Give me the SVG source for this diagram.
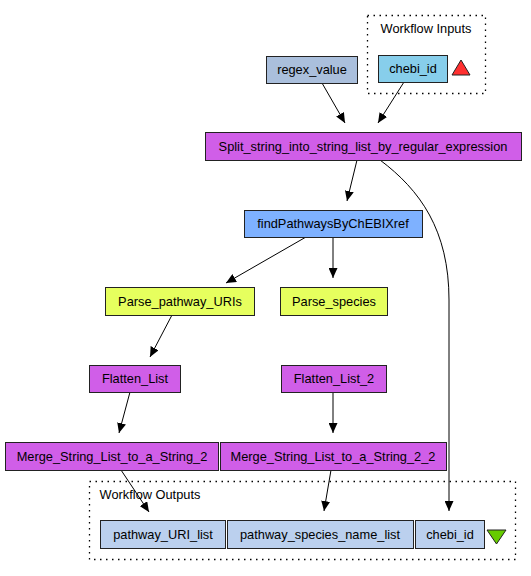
<svg xmlns="http://www.w3.org/2000/svg" width="531" height="576" viewBox="0 0 531 576">
<defs>
<marker id="arr" viewBox="0 0 10 9" refX="10" refY="4.5" markerWidth="10" markerHeight="9" markerUnits="userSpaceOnUse" orient="auto">
<path d="M0,0 L10,4.5 L0,9 Z" fill="#000"/>
</marker>
<style>
.n rect{stroke:#222;stroke-width:1}
text{font-family:"Liberation Sans",Arial,sans-serif;font-size:12.8px;fill:#000;text-anchor:middle}
.cl{fill:none;stroke:#000;stroke-width:1.3;stroke-dasharray:1.5,4.5}
.e path{fill:none;stroke:#000;stroke-width:1;marker-end:url(#arr)}
.pur{fill:#d05ee8}
.yel{fill:#e6ff5e}
.inb{fill:#87ceeb}
.outb{fill:#bbd0ee}
.cfg{fill:#aabfdc}
.ws{fill:#7eb1ff}
</style>
</defs>
<rect width="531" height="576" fill="#fff"/>
<g id="cluster_inputs">
<rect class="cl" x="367.5" y="15.5" width="118" height="78"/>
<text x="426" y="33">Workflow Inputs</text>
</g>
<g id="cluster_outputs">
<rect class="cl" x="89.5" y="481.5" width="426" height="78"/>
<text x="150" y="499">Workflow Outputs</text>
</g>
<g id="connectors" class="e">
<path d="M322,83 L345,123"/>
<path d="M404,82 L378,123"/>
<path d="M357,160 L347,201"/>
<path d="M380,160 C420,190 449,230 449,300 L449,511"/>
<path d="M306,237 L226,283"/>
<path d="M333,237 L333,278"/>
<path d="M172,315 L150,357"/>
<path d="M130,392 L119,433"/>
<path d="M333,392 L333,433"/>
<path d="M121,470 L149,512"/>
<path d="M331,470 L324,511"/>
</g>
<g id="regex_value" class="n"><rect class="cfg" x="266.5" y="56.5" width="91" height="27"/><text x="312" y="74">regex_value</text></g>
<g id="in_chebi_id" class="n"><rect class="inb" x="378.5" y="55.5" width="69" height="27"/><text x="413" y="73">chebi_id</text></g>
<g id="in_triangle"><polygon points="461,60 470,75 452,75" fill="#ff3030" stroke="#222"/></g>
<g id="Split" class="n"><rect class="pur" x="205.5" y="132.5" width="316" height="28"/><text x="363" y="151">Split_string_into_string_list_by_regular_expression</text></g>
<g id="findPathwaysByChEBIXref" class="n"><rect class="ws" x="244.5" y="210.5" width="178" height="27"/><text x="333" y="228">findPathwaysByChEBIXref</text></g>
<g id="Parse_pathway_URIs" class="n"><rect class="yel" x="105.5" y="287.5" width="149" height="28"/><text x="180" y="306">Parse_pathway_URIs</text></g>
<g id="Parse_species" class="n"><rect class="yel" x="280.5" y="287.5" width="107" height="28"/><text x="334" y="306">Parse_species</text></g>
<g id="Flatten_List" class="n"><rect class="pur" x="89.5" y="365.5" width="91" height="27"/><text x="135" y="383">Flatten_List</text></g>
<g id="Flatten_List_2" class="n"><rect class="pur" x="281.5" y="365.5" width="105" height="27"/><text x="334" y="383">Flatten_List_2</text></g>
<g id="Merge_String_List_to_a_String_2" class="n"><rect class="pur" x="5.5" y="442.5" width="213" height="28"/><text x="112" y="461">Merge_String_List_to_a_String_2</text></g>
<g id="Merge_String_List_to_a_String_2_2" class="n"><rect class="pur" x="220.5" y="442.5" width="226" height="28"/><text x="333" y="461">Merge_String_List_to_a_String_2_2</text></g>
<g id="out_pathway_URI_list" class="n"><rect class="outb" x="100.5" y="520.5" width="125" height="28"/><text x="163" y="539">pathway_URI_list</text></g>
<g id="out_pathway_species_name_list" class="n"><rect class="outb" x="227.5" y="520.5" width="186" height="28"/><text x="320" y="539">pathway_species_name_list</text></g>
<g id="out_chebi_id" class="n"><rect class="outb" x="415.5" y="520.5" width="69" height="28"/><text x="450" y="539">chebi_id</text></g>
<g id="out_triangle"><polygon points="487,530 506,530 496.5,544" fill="#66cc00" stroke="#222"/></g>
</svg>
